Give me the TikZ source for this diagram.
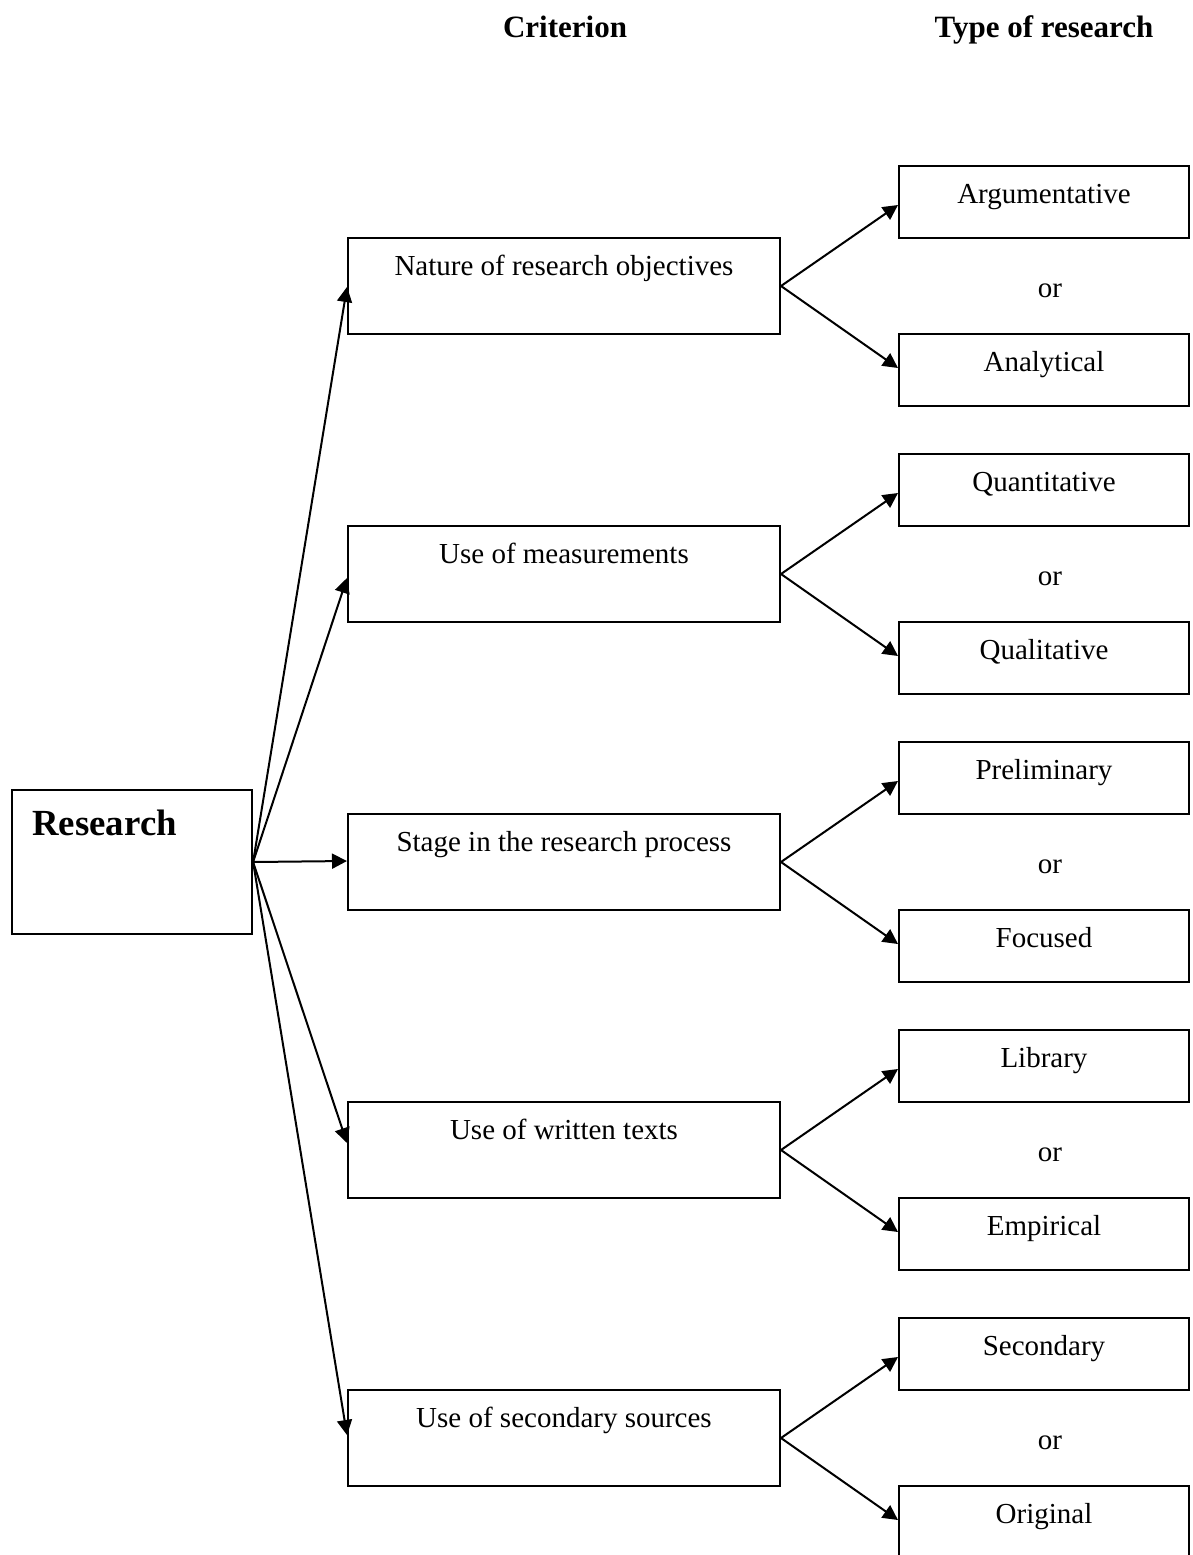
\documentclass[tikz,border=0pt]{standalone}
\usepackage{fontspec}
\setmainfont{Liberation Serif}
\usetikzlibrary{arrows.meta,calc}
\begin{document}
\begin{tikzpicture}[x=0.5pt,y=-0.5pt,
  box/.style={draw, line width=1pt, inner sep=0pt, anchor=north west},
  rbox/.style={box, minimum width=120.2pt, minimum height=72pt},
  critbox/.style={box, minimum width=216pt, minimum height=48pt},
  typebox/.style={box, minimum width=145pt, minimum height=36pt},
  lbl/.style={font=\fontsize{14.5}{17}\selectfont, anchor=base, inner sep=0pt},
  head/.style={font=\fontsize{15.5}{18}\selectfont\bfseries, anchor=base, inner sep=0pt},
  arr/.style={line width=1pt, -{Triangle[length=7.5pt,width=7.5pt]}}]
\useasboundingbox (0,0) rectangle (1193,1555);
\fill[white] (0,0) rectangle (1193,1555);

% headers
\node[head] (hc) at (565,37) {Criterion};
\node[head] (ht) at (1044,37) {Type of research};

% research box
\node[rbox] (R) at (10.7,789) {};
\node[font=\fontsize{18.4}{22}\selectfont\bfseries, anchor=base west, inner sep=0pt] (Rt) at (32,835) {Research};

% criterion and type boxes
\foreach \i/\ct/\ut/\lt in {
  1/Nature of research objectives/Argumentative/Analytical,
  2/Use of measurements/Quantitative/Qualitative,
  3/Stage in the research process/Preliminary/Focused,
  4/Use of written texts/Library/Empirical,
  5/Use of secondary sources/Secondary/Original}{
  \pgfmathsetmacro\yc{237+288*(\i-1)}
  \pgfmathsetmacro\yu{165+288*(\i-1)}
  \pgfmathsetmacro\yl{333+288*(\i-1)}
  \pgfmathsetmacro\yo{297+288*(\i-1)}
  \node[critbox] (c\i) at (347,\yc) {};
  \node[lbl] (ct\i) at ($(c\i.north)+(0,38)$) {\ct};
  \node[typebox] (u\i) at (898,\yu) {};
  \node[lbl] (ut\i) at ($(u\i.north)+(0,38)$) {\ut};
  \node[typebox] (l\i) at (898,\yl) {};
  \node[lbl] (lt\i) at ($(l\i.north)+(0,38)$) {\lt};
  \node[lbl] (or\i) at (1050,\yo) {or};
  \draw[arr] (c\i.east) -- ($(u\i.west)+(0,3)$);
  \draw[arr] (c\i.east) -- ($(l\i.west)+(0,-2)$);
}

% arrows from Research
\foreach \i/\off in {1/50,2/53,3/48,4/42,5/46}{
  \draw[arr] (R.east) -- ($(c\i.north west)+(0,\off)$);
}
\end{tikzpicture}
\end{document}
